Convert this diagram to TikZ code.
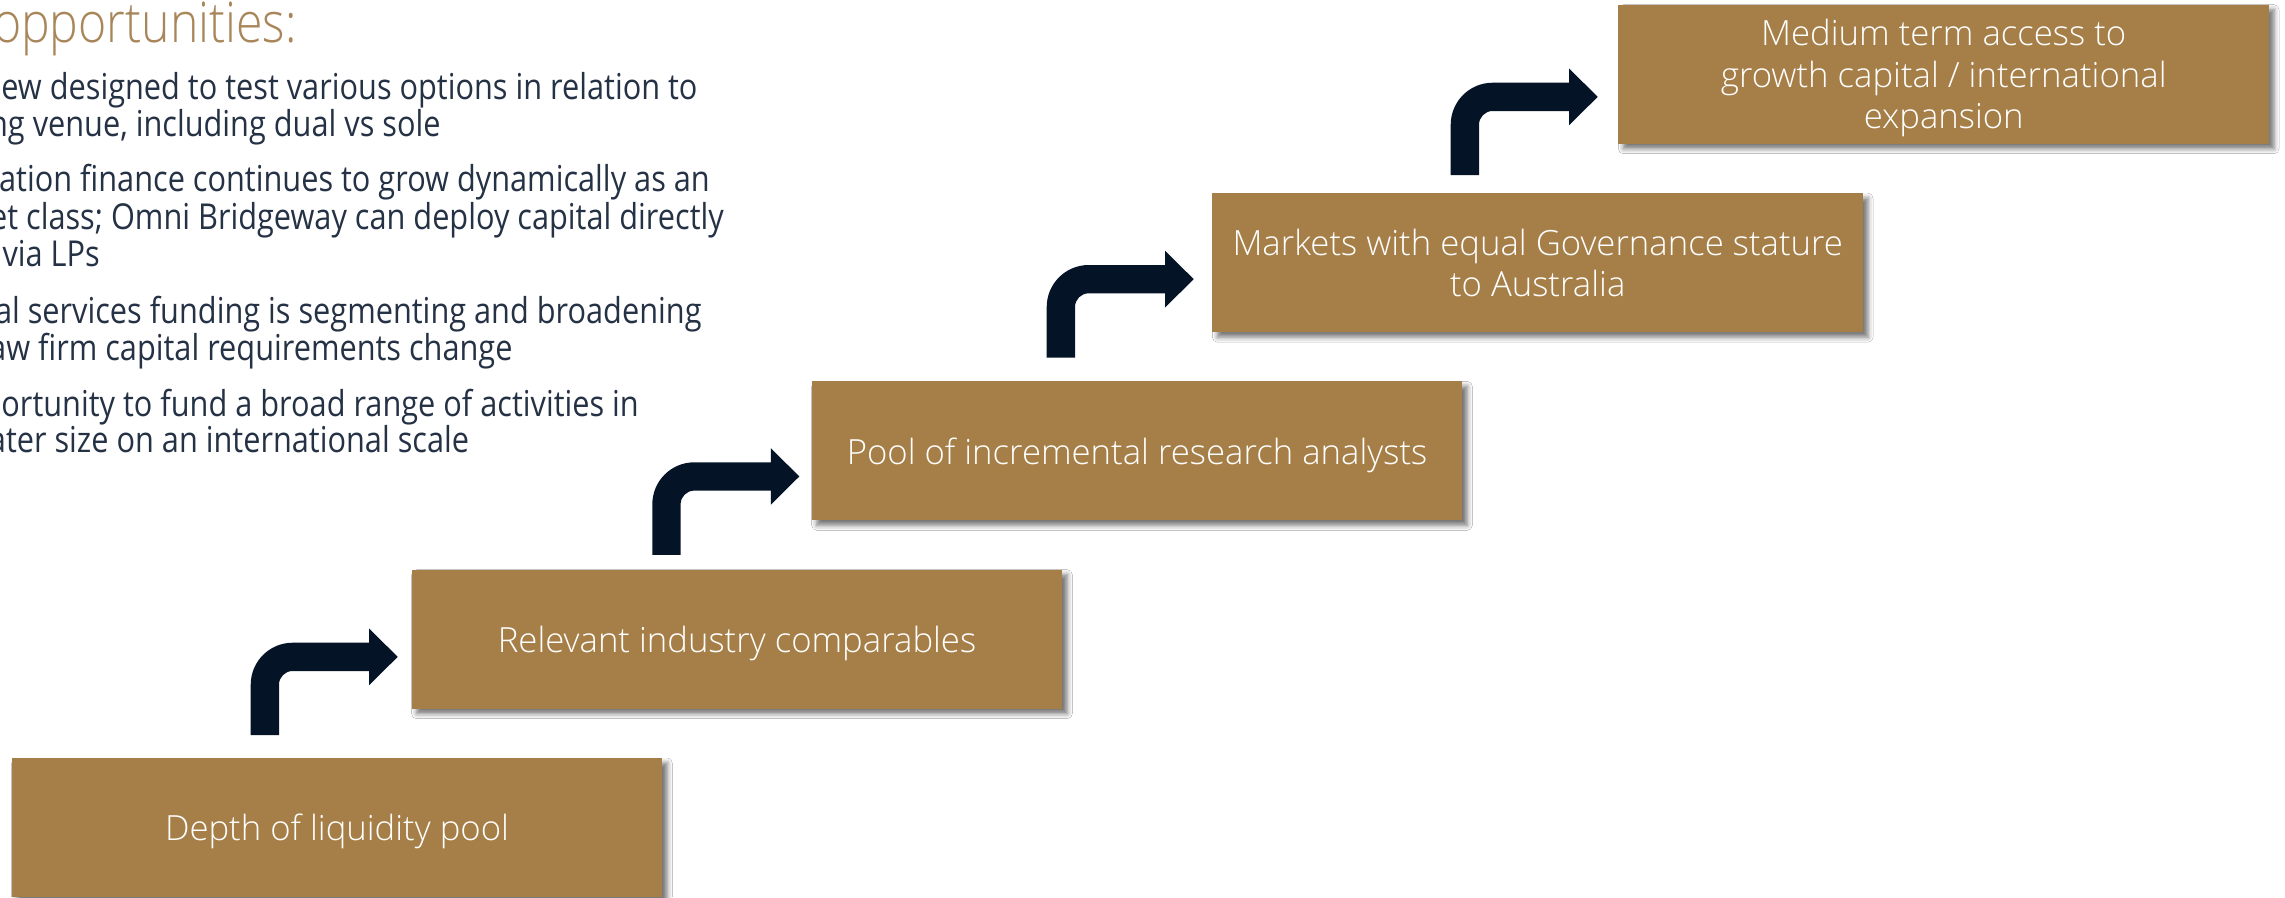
\documentclass[tikz,border=0pt]{standalone}
\usepackage{fontspec}
\usetikzlibrary{shadows.blur}
\IfFontExistsTF{Open Sans Light}{%
  \newfontfamily\lightfont{Open Sans Light}%
  \newfontfamily\titlefont{Open Sans Light}[FakeStretch=0.86]%
}{%
  \newfontfamily\lightfont{Open Sans}%
  \newfontfamily\titlefont{Open Sans}[FakeStretch=0.86]%
}
\newfontfamily\bulletfont{Open Sans}[FakeStretch=0.86]
\definecolor{boxgold}{HTML}{A67F48}
\definecolor{arrownavy}{HTML}{041426}
\definecolor{bodytext}{HTML}{253245}
\definecolor{titlegold}{HTML}{A8865A}
\tikzset{
  stepbox/.style={fill=boxgold, minimum width=650.6pt, minimum height=139pt,
    inner sep=0pt, align=center, text=white, text depth=0pt,
    font=\lightfont\fontsize{34.7}{41.5}\selectfont,
    blur shadow={shadow xshift=5pt, shadow yshift=-5pt, shadow blur radius=5pt, shadow opacity=55}},
  bulletline/.style={anchor=base east, inner sep=0pt, text=bodytext,
    font=\bulletfont\fontsize{35.7}{37}\selectfont},
  titletext/.style={anchor=base east, inner sep=0pt, text=titlegold,
    font=\titlefont\fontsize{56}{60}\selectfont},
  arrowfill/.style={fill=arrownavy}
}
\newcommand\bentarrow[1]{%
  \fill[arrowfill] ([shift={(0,92.5)}]#1) -- ([shift={(0,42)}]#1)
    .. controls ([shift={(0,18.8)}]#1) and ([shift={(18.8,0)}]#1) .. ([shift={(42,0)}]#1)
    -- ([shift={(118.5,0)}]#1) -- ([shift={(118.5,-14.1)}]#1)
    -- ([shift={(147,14.15)}]#1) -- ([shift={(118.5,42.4)}]#1)
    -- ([shift={(118.5,28.3)}]#1) -- ([shift={(42,28.3)}]#1)
    .. controls ([shift={(34.4,28.3)}]#1) and ([shift={(28.3,34.4)}]#1) .. ([shift={(28.3,42)}]#1)
    -- ([shift={(28.3,92.5)}]#1) -- cycle;}
\begin{document}
\begin{tikzpicture}[x=1pt,y=-1pt]
\useasboundingbox (0,0) rectangle (2285,897);
\clip (0,0) rectangle (2285,897);
\fill[white] (0,0) rectangle (2285,897);

% title and bullet text
\node[titletext] (title) at (297,42.5) {opportunities:};
\node[bulletline] (l1) at (697.7,99.3) {ew designed to test various options in relation to};
\node[bulletline] (l2) at (440.7,136.7) {ng venue, including dual vs sole};
\node[bulletline] (l3) at (710,191.7) {ation finance continues to grow dynamically as an};
\node[bulletline] (l4) at (724,229.3) {et class; Omni Bridgeway can deploy capital directly};
\node[bulletline] (l5) at (100,266.7) {via LPs};
\node[bulletline] (l6) at (701.7,323.3) {al services funding is segmenting and broadening};
\node[bulletline] (l7) at (512.7,360.7) {aw firm capital requirements change};
\node[bulletline] (l8) at (639,416) {portunity to fund a broad range of activities in};
\node[bulletline] (l9) at (469.3,452.7) {ater size on an international scale};

% step boxes
\node[stepbox] (b1) at (337,827.5) {Depth of liquidity pool};
\node[stepbox] (b2) at (737,639.2) {Relevant industry comparables};
\node[stepbox] (b3) at (1137,450.8) {Pool of incremental research analysts};
\node[stepbox] (b4) at (1537.7,262.7) {Markets with equal Governance stature\\to Australia};
\node[stepbox] (b5) at (1943.7,74.2) {Medium term access to\\growth capital / international\\expansion};

% bent arrows
\coordinate (a1) at (250.7,642.7);
\coordinate (a2) at (652.3,462.3);
\coordinate (a3) at (1046.7,265);
\coordinate (a4) at (1450.7,82.7);
\bentarrow{a1}
\bentarrow{a2}
\bentarrow{a3}
\bentarrow{a4}
\end{tikzpicture}
\end{document}
